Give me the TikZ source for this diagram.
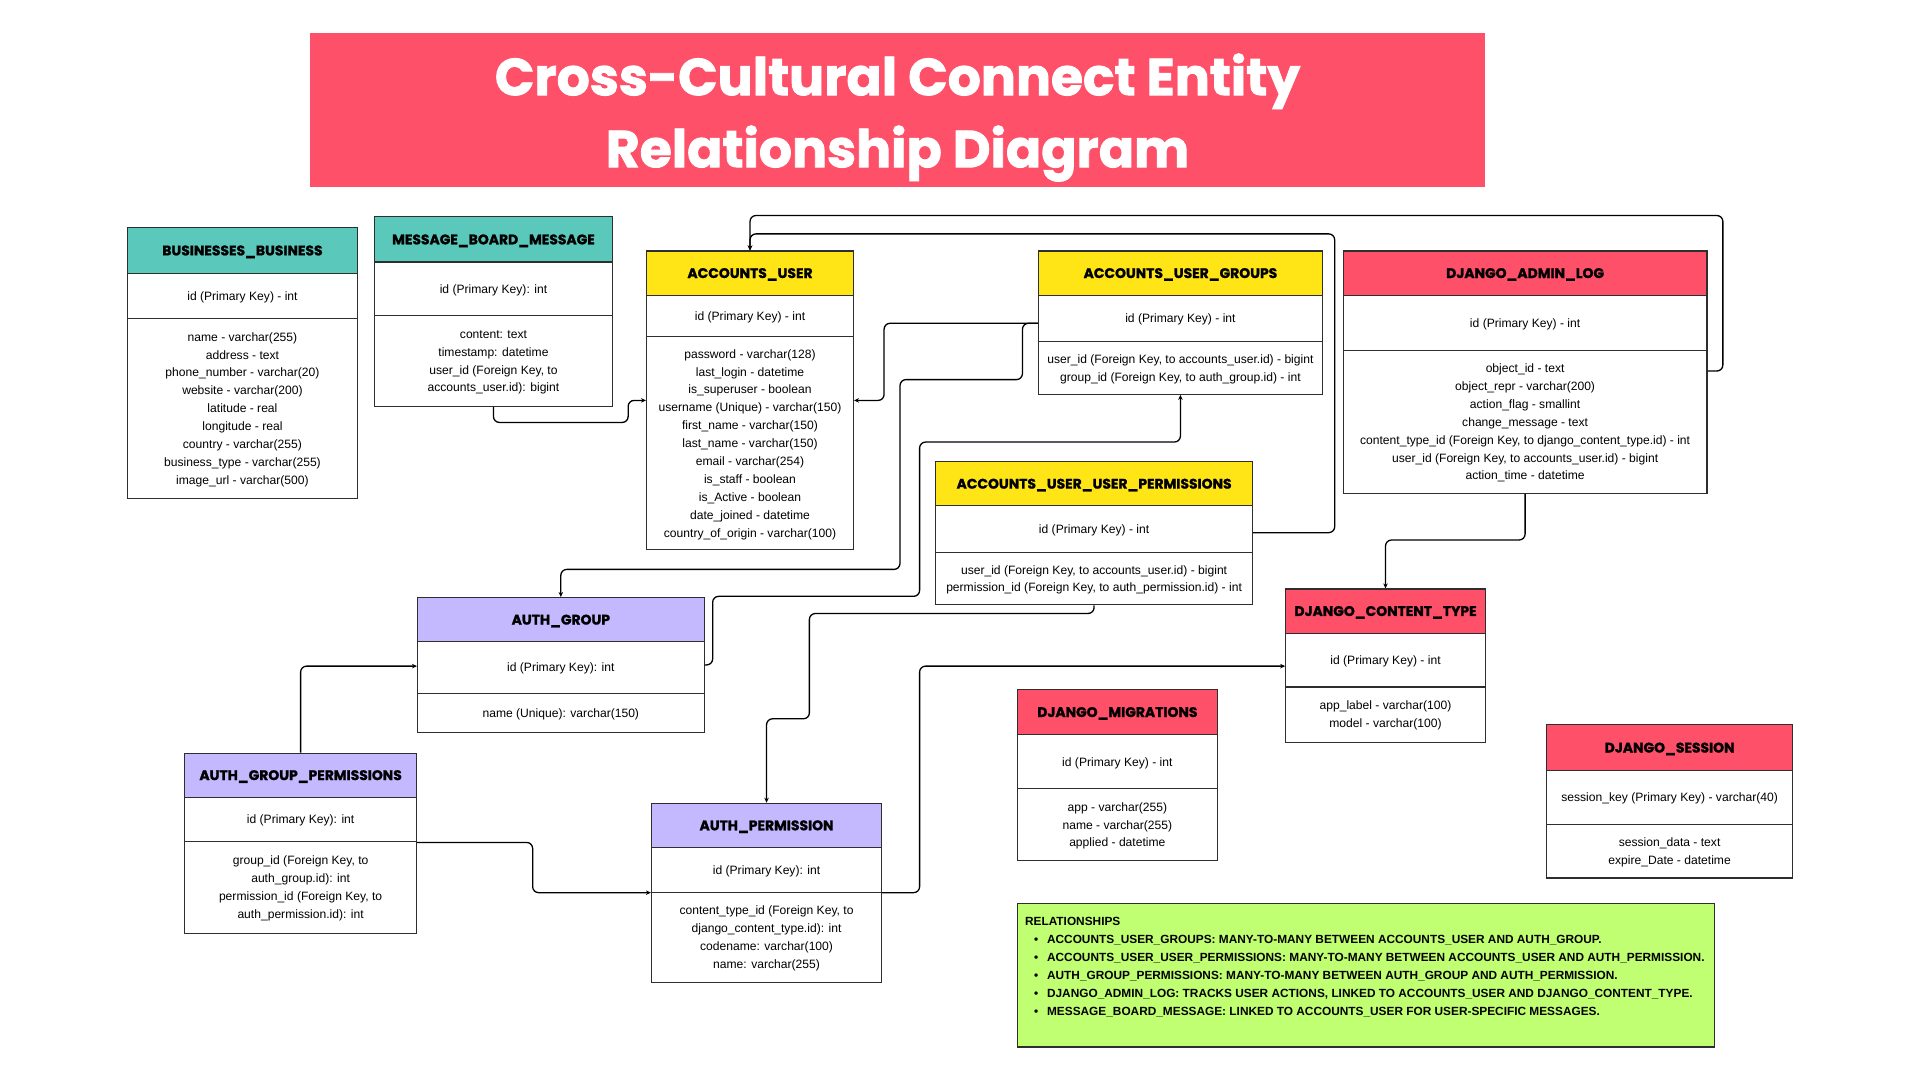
\documentclass[tikz,border=0pt]{standalone}
\usepackage{fontspec}
\setmainfont{Liberation Sans}
\newfontfamily\hdrfont{Poppins}[BoldFeatures={FakeBold=1.4}]
\newfontfamily\ttlfont{Poppins}[BoldFeatures={FakeBold=1.6}]
\usetikzlibrary{arrows.meta,calc}
\definecolor{banner}{HTML}{FF5069}
\definecolor{tealh}{HTML}{5BC8BC}
\definecolor{yellowh}{HTML}{FFE516}
\definecolor{redh}{HTML}{FF5069}
\definecolor{lavh}{HTML}{C4B8FF}
\definecolor{relgreen}{HTML}{C1FF72}
\definecolor{edge}{HTML}{2E2E2E}
\newcommand{\trow}[7]{\node[#2, minimum width={(#5-#3)*1.2245pt}, minimum height={(#6-#4)*1.2245pt}] (#1) at ({(#3+#5)/2},{(#4+#6)/2}) {#7};}
\begin{document}
\begin{tikzpicture}[x=1.2245pt,y=-1.2245pt,
  tblbox/.style={draw=edge, line width=1.1pt, inner sep=0pt, anchor=center, text depth=0pt},
  hdr/.style={tblbox, font=\hdrfont\bfseries\fontsize{13.9}{16}\selectfont},
  idrow/.style={tblbox, fill=white, font=\fontsize{12.1}{18}\selectfont},
  bodyrow/.style={tblbox, fill=white, align=center, font=\fontsize{12.1}{17.9}\selectfont},
  conn/.style={draw=black, line width=1.3pt, rounded corners=6pt},
  arr/.style={conn, -{Stealth[length=5pt,width=4.5pt]}},
]
\useasboundingbox (0,0) rectangle (1568,882);
\fill[white] (0,0) rectangle (1568,882);

% title
\trow{banner}{fill=banner, inner sep=0pt}{253}{27}{1213}{153}{}
\node[text=white, align=center, font=\ttlfont\bfseries\fontsize{52}{72}\selectfont] (title) at (733,96) {Cross-Cultural Connect Entity\\Relationship Diagram};

% BUSINESSES_BUSINESS
\trow{bb-h}{hdr, fill=tealh}{104}{186}{292}{223}{BUSINESSES\_BUSINESS}
\trow{bb-i}{idrow}{104}{223}{292}{260}{id (Primary Key) - int}
\trow{bb-b}{bodyrow}{104}{260}{292}{407}{name - varchar(255)\\address - text\\phone\_number - varchar(20)\\website - varchar(200)\\latitude - real\\longitude - real\\country - varchar(255)\\business\_type - varchar(255)\\image\_url - varchar(500)}

% MESSAGE_BOARD_MESSAGE
\trow{mbm-h}{hdr, fill=tealh}{306}{177}{500}{214}{MESSAGE\_BOARD\_MESSAGE}
\trow{mbm-i}{idrow}{306}{214}{500}{258}{id (Primary Key): int}
\trow{mbm-b}{bodyrow}{306}{258}{500}{332}{content: text\\timestamp: datetime\\user\_id (Foreign Key, to\\accounts\_user.id): bigint}

% ACCOUNTS_USER
\trow{au-h}{hdr, fill=yellowh}{528}{205}{697}{241}{ACCOUNTS\_USER}
\trow{au-i}{idrow}{528}{241}{697}{275}{id (Primary Key) - int}
\trow{au-b}{bodyrow}{528}{275}{697}{449}{password - varchar(128)\\last\_login - datetime\\is\_superuser - boolean\\username (Unique) - varchar(150)\\first\_name - varchar(150)\\last\_name - varchar(150)\\email - varchar(254)\\is\_staff - boolean\\is\_Active - boolean\\date\_joined - datetime\\country\_of\_origin - varchar(100)}

% ACCOUNTS_USER_GROUPS
\trow{aug-h}{hdr, fill=yellowh}{848}{205}{1080}{241}{ACCOUNTS\_USER\_GROUPS}
\trow{aug-i}{idrow}{848}{241}{1080}{279}{id (Primary Key) - int}
\trow{aug-b}{bodyrow}{848}{279}{1080}{322}{user\_id (Foreign Key, to accounts\_user.id) - bigint\\group\_id (Foreign Key, to auth\_group.id) - int}

% DJANGO_ADMIN_LOG
\trow{dal-h}{hdr, fill=redh}{1097}{205}{1394}{241}{DJANGO\_ADMIN\_LOG}
\trow{dal-i}{idrow}{1097}{241}{1394}{286}{id (Primary Key) - int}
\trow{dal-b}{bodyrow}{1097}{286}{1394}{403}{object\_id - text\\object\_repr - varchar(200)\\action\_flag - smallint\\change\_message - text\\content\_type\_id (Foreign Key, to django\_content\_type.id) - int\\user\_id (Foreign Key, to accounts\_user.id) - bigint\\action\_time - datetime}

% ACCOUNTS_USER_USER_PERMISSIONS
\trow{auup-h}{hdr, fill=yellowh}{764}{377}{1023}{413}{ACCOUNTS\_USER\_USER\_PERMISSIONS}
\trow{auup-i}{idrow}{764}{413}{1023}{451}{id (Primary Key) - int}
\trow{auup-b}{bodyrow}{764}{451}{1023}{494}{user\_id (Foreign Key, to accounts\_user.id) - bigint\\permission\_id (Foreign Key, to auth\_permission.id) - int}

% AUTH_GROUP
\trow{ag-h}{hdr, fill=lavh}{341}{488}{575}{524}{AUTH\_GROUP}
\trow{ag-i}{idrow}{341}{524}{575}{566}{id (Primary Key): int}
\trow{ag-b}{bodyrow}{341}{566}{575}{598}{name (Unique): varchar(150)}

% AUTH_GROUP_PERMISSIONS
\trow{agp-h}{hdr, fill=lavh}{151}{615}{340}{651}{AUTH\_GROUP\_PERMISSIONS}
\trow{agp-i}{idrow}{151}{651}{340}{687}{id (Primary Key): int}
\trow{agp-b}{bodyrow}{151}{687}{340}{762}{group\_id (Foreign Key, to\\auth\_group.id): int\\permission\_id (Foreign Key, to\\auth\_permission.id): int}

% AUTH_PERMISSION
\trow{ap-h}{hdr, fill=lavh}{532}{656}{720}{692}{AUTH\_PERMISSION}
\trow{ap-i}{idrow}{532}{692}{720}{729}{id (Primary Key): int}
\trow{ap-b}{bodyrow}{532}{729}{720}{802}{content\_type\_id (Foreign Key, to\\django\_content\_type.id): int\\codename: varchar(100)\\name: varchar(255)}

% DJANGO_CONTENT_TYPE
\trow{dct-h}{hdr, fill=redh}{1050}{481}{1213}{517}{DJANGO\_CONTENT\_TYPE}
\trow{dct-i}{idrow}{1050}{517}{1213}{561}{id (Primary Key) - int}
\trow{dct-b}{bodyrow}{1050}{561}{1213}{606}{app\_label - varchar(100)\\model - varchar(100)}

% DJANGO_MIGRATIONS
\trow{dm-h}{hdr, fill=redh}{831}{563}{994}{600}{DJANGO\_MIGRATIONS}
\trow{dm-i}{idrow}{831}{600}{994}{644}{id (Primary Key) - int}
\trow{dm-b}{bodyrow}{831}{644}{994}{703}{app - varchar(255)\\name - varchar(255)\\applied - datetime}

% DJANGO_SESSION
\trow{ds-h}{hdr, fill=redh}{1263}{592}{1464}{629}{DJANGO\_SESSION}
\trow{ds-i}{idrow}{1263}{629}{1464}{673}{session\_key (Primary Key) - varchar(40)}
\trow{ds-b}{bodyrow}{1263}{673}{1464}{717}{session\_data - text\\expire\_Date - datetime}

% RELATIONSHIPS
\trow{rel}{tblbox, fill=relgreen}{831}{738}{1400}{855}{}
\node[anchor=north west, align=left, inner sep=0pt, font=\bfseries\fontsize{11.85}{18.1}\selectfont] (reltext) at (837,748.5) {RELATIONSHIPS\\
\makebox[22pt][l]{\hspace*{9pt}\textbullet}ACCOUNTS\_USER\_GROUPS: MANY-TO-MANY BETWEEN ACCOUNTS\_USER AND AUTH\_GROUP.\\
\makebox[22pt][l]{\hspace*{9pt}\textbullet}ACCOUNTS\_USER\_USER\_PERMISSIONS: MANY-TO-MANY BETWEEN ACCOUNTS\_USER AND AUTH\_PERMISSION.\\
\makebox[22pt][l]{\hspace*{9pt}\textbullet}AUTH\_GROUP\_PERMISSIONS: MANY-TO-MANY BETWEEN AUTH\_GROUP AND AUTH\_PERMISSION.\\
\makebox[22pt][l]{\hspace*{9pt}\textbullet}DJANGO\_ADMIN\_LOG: TRACKS USER ACTIONS, LINKED TO ACCOUNTS\_USER AND DJANGO\_CONTENT\_TYPE.\\
\makebox[22pt][l]{\hspace*{9pt}\textbullet}MESSAGE\_BOARD\_MESSAGE: LINKED TO ACCOUNTS\_USER FOR USER-SPECIFIC MESSAGES.};

% connectors
\draw[arr] (mbm-b.south) -- (403,345) -- (513,345) -- (513,327) -- (au-b.west |- 0,327);
\draw[arr] (aug-i.west |- 0,264) -- (722,264) -- (722,327) -- (au-b.east |- 0,327);
\draw[arr] (aug-i.west |- 0,264) -- (835,264) -- (835,310) -- (735,310) -- (735,465) -- (458,465) -- (ag-h.north);
\draw[arr] (ag-i.east |- 0,543) -- (582,543) -- (582,487) -- (751,487) -- (751,361) -- (964,361) -- (aug-b.south);
\draw[arr] (auup-i.east |- 0,435) -- (1090,435) -- (1090,191) -- (612.5,191) -- (au-h.north);
\draw[arr] (dal-b.east |- 0,303) -- (1407,303) -- (1407,176) -- (612.5,176) -- (au-h.north);
\draw[arr] (dal-b.south) -- (1245.5,441) -- (1131.5,441) -- (dct-h.north);
\draw[arr] (auup-b.south) -- (893.5,501) -- (661,501) -- (661,587) -- (626,587) -- (ap-h.north);
\draw[arr] (ap-i.east |- 0,729) -- (751,729) -- (751,544) -- (dct-i.west |- 0,544);
\draw[arr] (agp-h.north) -- (245.5,544) -- (ag-i.west |- 0,544);
\draw[arr] (agp-i.east |- 0,688) -- (435,688) -- (435,729) -- (ap-i.west |- 0,729);
\end{tikzpicture}
\end{document}
